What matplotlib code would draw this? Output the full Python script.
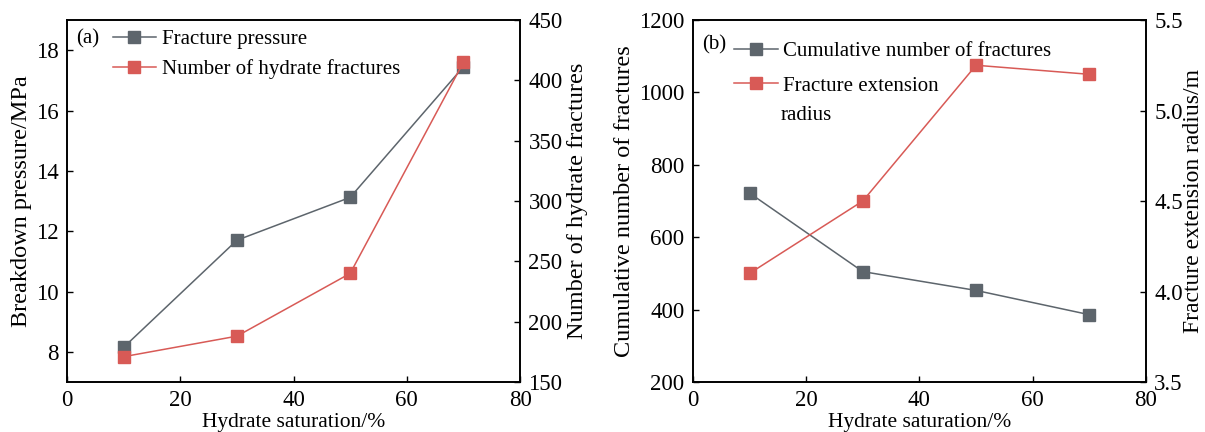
import matplotlib.pyplot as plt

# hydrate saturation (%)
saturation = [10, 30, 50, 70]

# panel (a)
breakdown_pressure = [8.15, 11.7, 13.12, 17.45]
hydrate_fractures = [171, 188, 240, 415]

# panel (b)
cumulative_fractures = [722, 505, 453, 386]
extension_radius = [4.10, 4.50, 5.25, 5.20]

GRAY = "#5d656c"
RED = "#d85a56"

plt.rcParams["font.family"] = ["Liberation Serif", "DejaVu Serif"]
plt.rcParams["font.size"] = 15


def style(ax):
    ax.tick_params(direction="in", length=4.5, width=1, top=False,
                   labelsize=16.5, pad=6)
    for s in ax.spines.values():
        s.set_linewidth(1.2)


fig = plt.figure(figsize=(12.05, 4.32), dpi=100)

# ---- (a)
ax1 = fig.add_axes([0.0556, 0.1157, 0.376, 0.838])
ax2 = ax1.twinx()
l1, = ax1.plot(saturation, breakdown_pressure, color=GRAY, marker="s",
               markersize=8, linewidth=1.1, label="Fracture pressure")
l2, = ax2.plot(saturation, hydrate_fractures, color=RED, marker="s",
               markersize=8, linewidth=1.1, label="Number of hydrate fractures")
ax1.set_xlim(0, 80)
ax1.set_ylim(7, 19)
ax1.set_yticks([8, 10, 12, 14, 16, 18])
ax2.set_ylim(150, 450)
ax2.set_yticks([150, 200, 250, 300, 350, 400, 450])
ax1.set_xticks([0, 20, 40, 60, 80])
ax1.set_xlabel("Hydrate saturation/%", fontsize=15.5, labelpad=1)
ax1.set_ylabel("Breakdown pressure/MPa", fontsize=17.5, labelpad=3)
ax2.set_ylabel("Number of hydrate fractures", fontsize=17.5, labelpad=3)
style(ax1)
style(ax2)
ax1.text(0.02, 0.975, "(a)", transform=ax1.transAxes, va="top", ha="left")
ax1.legend(handles=[l1, l2], loc="upper left", bbox_to_anchor=(0.073, 1.009),
           frameon=False, handlelength=2.1, handletextpad=0.25,
           labelspacing=0.5, borderaxespad=0.2)

# ---- (b)
ax3 = fig.add_axes([0.575, 0.1157, 0.376, 0.838])
ax4 = ax3.twinx()
l3, = ax3.plot(saturation, cumulative_fractures, color=GRAY, marker="s",
               markersize=8, linewidth=1.1, label="Cumulative number of fractures")
l4, = ax4.plot(saturation, extension_radius, color=RED, marker="s",
               markersize=8, linewidth=1.1, label="Fracture extension")
ax3.set_xlim(0, 80)
ax3.set_ylim(200, 1200)
ax3.set_yticks([200, 400, 600, 800, 1000, 1200])
ax4.set_ylim(3.5, 5.5)
ax4.set_yticks([3.5, 4.0, 4.5, 5.0, 5.5])
ax3.set_xticks([0, 20, 40, 60, 80])
ax3.set_xlabel("Hydrate saturation/%", fontsize=15.5, labelpad=1)
ax3.set_ylabel("Cumulative number of fractures", fontsize=17.5, labelpad=3)
ax4.set_ylabel("Fracture extension radius/m", fontsize=17, labelpad=0)
style(ax3)
style(ax4)
ax3.text(0.02, 0.957, "(b)", transform=ax3.transAxes, va="top", ha="left")
ax3.legend(handles=[l3, l4], loc="upper left", bbox_to_anchor=(0.063, 0.975),
           frameon=False, handlelength=2.1, handletextpad=0.25,
           labelspacing=0.72, borderaxespad=0.2)
# second line of the "Fracture extension radius" legend entry
ax3.text(0.193, 0.735, "radius", transform=ax3.transAxes, va="center",
         ha="left")

fig.savefig("out.png", dpi=100)
